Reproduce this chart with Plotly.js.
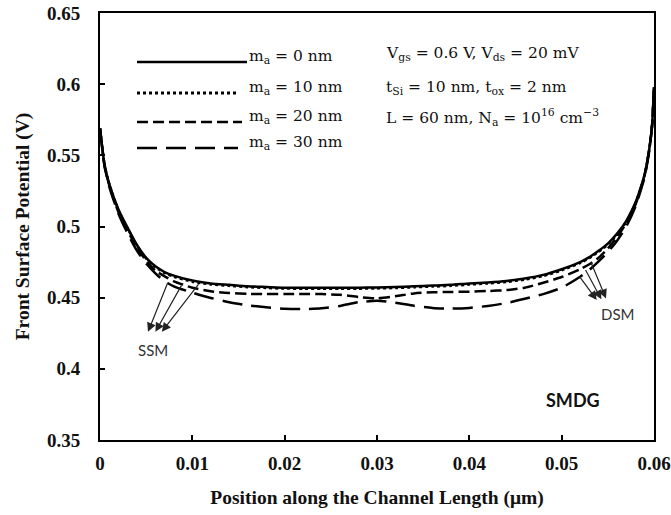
<!DOCTYPE html>
<html>
<head>
<meta charset="utf-8">
<script src="https://cdn.plot.ly/plotly-3.0.1.min.js"></script>
<style>
  html, body { margin: 0; padding: 0; background: #fff; }
  #chart { width: 671px; height: 515px; }
</style>
</head>
<body>
<div id="chart"></div>
<script>
// Position along the channel (µm)
const position = [0, 0.0005, 0.001, 0.002, 0.003, 0.004, 0.005, 0.006, 0.007, 0.008,
  0.010, 0.012, 0.014, 0.016, 0.018, 0.020, 0.022, 0.024, 0.026, 0.028,
  0.030, 0.032, 0.034, 0.036, 0.038, 0.040, 0.042, 0.044, 0.046, 0.048,
  0.050, 0.052, 0.053, 0.054, 0.055, 0.056, 0.057, 0.058, 0.0585, 0.059,
  0.0595, 0.0598, 0.060];

// Front surface potential (V) for each m_a
const phiMa0 = [0.569, 0.543, 0.530, 0.512, 0.499, 0.487, 0.478, 0.472, 0.468, 0.4655,
  0.462, 0.460, 0.459, 0.458, 0.4575, 0.457, 0.457, 0.457, 0.457, 0.457,
  0.4572, 0.4575, 0.458, 0.4585, 0.459, 0.460, 0.4607, 0.4617, 0.4635, 0.466,
  0.470, 0.475, 0.4785, 0.483, 0.488, 0.495, 0.504, 0.517, 0.526, 0.537,
  0.555, 0.572, 0.598];

const phiMa10 = [0.569, 0.543, 0.530, 0.5115, 0.4985, 0.4865, 0.4775, 0.4715, 0.4673, 0.4647,
  0.4612, 0.4593, 0.4583, 0.4574, 0.4568, 0.4564, 0.4563, 0.4563, 0.4563, 0.4563,
  0.4565, 0.4568, 0.4573, 0.4578, 0.4583, 0.4592, 0.4600, 0.4610, 0.4627, 0.4652,
  0.4692, 0.4743, 0.4778, 0.4822, 0.4873, 0.4943, 0.5033, 0.5163, 0.5257, 0.5367,
  0.5547, 0.5717, 0.598];

const phiMa20 = [0.569, 0.5425, 0.529, 0.510, 0.497, 0.485, 0.476, 0.469, 0.465, 0.4615,
  0.457, 0.4545, 0.4533, 0.4527, 0.4525, 0.4525, 0.4525, 0.4525, 0.452, 0.4505,
  0.4495, 0.451, 0.453, 0.4538, 0.454, 0.4542, 0.4547, 0.4553, 0.457, 0.4605,
  0.4645, 0.470, 0.4735, 0.478, 0.4845, 0.4925, 0.5025, 0.5155, 0.5255, 0.5365,
  0.5545, 0.5715, 0.598];

const phiMa30 = [0.569, 0.542, 0.528, 0.509, 0.495, 0.483, 0.474, 0.467, 0.4615, 0.458,
  0.4535, 0.4498, 0.4468, 0.4447, 0.4432, 0.4422, 0.442, 0.4425, 0.4442, 0.4468,
  0.4478, 0.4465, 0.4443, 0.4428, 0.4423, 0.4428, 0.4442, 0.4462, 0.4492, 0.4525,
  0.457, 0.4647, 0.4695, 0.4755, 0.482, 0.490, 0.500, 0.514, 0.524, 0.535,
  0.554, 0.571, 0.598];

const seriesNames = ['m<sub>a</sub> = 0 nm', 'm<sub>a</sub> = 10 nm', 'm<sub>a</sub> = 20 nm', 'm<sub>a</sub> = 30 nm'];
const seriesValues = [phiMa0, phiMa10, phiMa20, phiMa30];
const seriesDash = ['solid', 'dot', '11px,5px', '20px,9px'];

const xTicks = [0, 0.01, 0.02, 0.03, 0.04, 0.05, 0.06];
const xTickText = ['0', '0.01', '0.02', '0.03', '0.04', '0.05', '0.06'];
const yTicks = [0.35, 0.4, 0.45, 0.5, 0.55, 0.6, 0.65];
const yTickText = ['0.35', '0.4', '0.45', '0.5', '0.55', '0.6', '0.65'];

const paramLines = [
  'V<sub>gs</sub> = 0.6 V, V<sub>ds</sub> = 20 mV',
  't<sub>Si</sub> = 10 nm, t<sub>ox</sub> = 2 nm',
  'L = 60 nm, N<sub>a</sub> = 10<sup>16</sup> cm<sup>−3</sup>'
];

// Source/drain side markers: arrow tail (on curve) -> arrow head (near label)
const ssmTailX = [0.0074, 0.0089, 0.0108];
const ssmTailY = [0.4615, 0.4595, 0.4605];
const ssmHeadX = [0.0052, 0.0060, 0.0067];
const ssmHeadY = [0.426, 0.426, 0.426];
const dsmTailX = [0.0518, 0.0525, 0.0531];
const dsmTailY = [0.4660, 0.4705, 0.4760];
const dsmHeadX = [0.0538, 0.0543, 0.0548];
const dsmHeadY = [0.4483, 0.4488, 0.4495];

const W = 671, H = 515;
const M = { l: 100, r: 17, t: 13, b: 75 };
const pw = W - M.l - M.r, ph = H - M.t - M.b;
const px = v => (v - M.l) / pw;        // page x -> paper
const py = v => (H - M.b - v) / ph;    // page y -> paper

const traces = seriesValues.map((vals, i) => ({
  x: position,
  y: vals,
  type: 'scatter',
  mode: 'lines',
  name: seriesNames[i],
  line: { color: '#000', width: 2.5, dash: seriesDash[i], shape: 'spline', smoothing: 0.6 },
  showlegend: false,
  hoverinfo: 'skip'
}));

const serif = 'Liberation Serif, Times New Roman, serif';
const mathFont = { family: 'DejaVu Serif, serif', size: 15.5, color: '#111' };

// Legend: line samples + labels
const legendY = [62, 93, 122, 148];
const legendEnd = [247, 237, 242, 238];
const shapes = [];
const annotations = [];
legendY.forEach((yy, i) => {
  shapes.push({
    type: 'line', xref: 'paper', yref: 'paper',
    x0: px(137), x1: px(legendEnd[i]), y0: py(yy), y1: py(yy),
    line: { color: '#000', width: i === 1 ? 2.8 : 2.3, dash: seriesDash[i] }
  });
  annotations.push({
    xref: 'paper', yref: 'paper', x: px(247), y: py(yy - 5),
    xanchor: 'left', yanchor: 'middle', showarrow: false,
    text: seriesNames[i], font: mathFont
  });
});

const paramY = [54, 88, 117];
paramLines.forEach((t, i) => {
  annotations.push({
    xref: 'paper', yref: 'paper', x: px(384), y: py(paramY[i]),
    xanchor: 'left', yanchor: 'middle', showarrow: false,
    text: t, font: mathFont
  });
});

const arrowStyle = { showarrow: true, arrowhead: 2, arrowsize: 1.5, arrowwidth: 1.2, arrowcolor: '#222', text: '', axref: 'x', ayref: 'y', xref: 'x', yref: 'y', standoff: 0, startstandoff: 0 };
ssmHeadX.forEach((hx, i) => {
  annotations.push(Object.assign({}, arrowStyle, { x: hx, y: ssmHeadY[i], ax: ssmTailX[i], ay: ssmTailY[i] }));
});
dsmHeadX.forEach((hx, i) => {
  annotations.push(Object.assign({}, arrowStyle, { x: hx, y: dsmHeadY[i], ax: dsmTailX[i], ay: dsmTailY[i] }));
});

const sansFont = 'Lato, Open Sans, sans-serif';
annotations.push({ x: 0.0057, y: 0.413, xref: 'x', yref: 'y', text: 'SSM', showarrow: false,
  font: { family: sansFont, size: 15, color: '#333' } });
annotations.push({ x: 0.0561, y: 0.4385, xref: 'x', yref: 'y', text: 'DSM', showarrow: false,
  font: { family: sansFont, size: 15, color: '#333' } });
annotations.push({ x: 0.0512, y: 0.378, xref: 'x', yref: 'y', text: '<b>SMDG</b>', showarrow: false,
  font: { family: sansFont, size: 18, color: '#111' } });

const layout = {
  width: W, height: H,
  margin: M,
  paper_bgcolor: '#fff', plot_bgcolor: '#fff',
  xaxis: {
    range: [0, 0.06], tickvals: xTicks, ticktext: xTickText,
    showline: true, mirror: true, linecolor: '#000', linewidth: 2,
    ticks: 'inside', ticklen: 5, tickwidth: 2, tickcolor: '#000',
    showgrid: false, zeroline: false, automargin: false,
    ticklabelstandoff: 5,
    tickfont: { family: serif, size: 19, color: '#111', weight: 'bold' },
    title: { text: 'Position along the Channel Length (μm)', standoff: 18,
      font: { family: serif, size: 19.5, color: '#111', weight: 'bold' } }
  },
  yaxis: {
    range: [0.35, 0.65], tickvals: yTicks, ticktext: yTickText,
    showline: true, mirror: true, linecolor: '#000', linewidth: 2,
    ticks: 'inside', ticklen: 5, tickwidth: 2, tickcolor: '#000',
    showgrid: false, zeroline: false, automargin: false,
    ticklabelstandoff: 14,
    tickfont: { family: serif, size: 19, color: '#111', weight: 'bold' },
    title: { text: 'Front Surface Potential (V)', standoff: 12,
      font: { family: serif, size: 19.5, color: '#111', weight: 'bold' } }
  },
  shapes: shapes,
  annotations: annotations
};

Plotly.newPlot('chart', traces, layout, { displayModeBar: false, staticPlot: true });
</script>
</body>
</html>
